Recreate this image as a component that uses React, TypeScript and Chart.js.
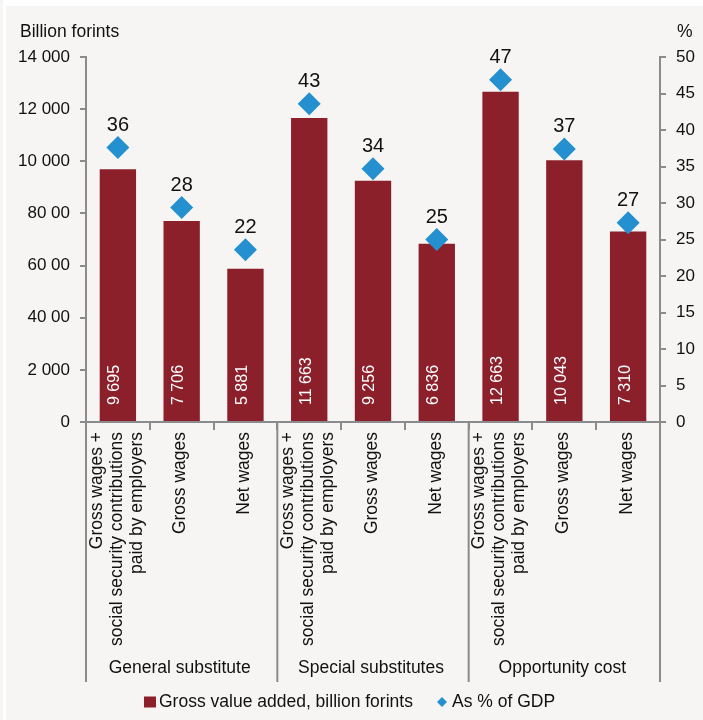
import React, { useEffect, useRef } from "react";
import { Chart, registerables } from "chart.js";

Chart.register(...registerables);

// ---------- data ----------
const groupNames = ["General substitute", "Special substitutes", "Opportunity cost"];
const categoryLabels: string[][] = [
  ["Gross wages +", "social security contributions", "paid by employers"],
  ["Gross wages"],
  ["Net wages"],
  ["Gross wages +", "social security contributions", "paid by employers"],
  ["Gross wages"],
  ["Net wages"],
  ["Gross wages +", "social security contributions", "paid by employers"],
  ["Gross wages"],
  ["Net wages"],
];
const grossValueAdded = [9695, 7706, 5881, 11663, 9256, 6836, 12663, 10043, 7310];
const pctOfGDP = [37.6, 29.4, 23.6, 43.6, 34.7, 25.0, 46.9, 37.4, 27.3];
const pctLabels = ["36", "28", "22", "43", "34", "25", "47", "37", "27"];
const leftTickLabels = ["0", "2 000", "40 00", "60 00", "80 00", "10 000", "12 000", "14 000"];
const leftAxisTitle = "Billion forints";
const rightAxisTitle = "%";
const legendLabels = ["Gross value added, billion forints", "As % of GDP"];

// ---------- style ----------
const FONT = "'Liberation Sans', Arial, Helvetica, sans-serif";
const BG = "#f6f5f3";
const BAR = "#8b202b";
const BLUE = "#2590cf";
const AXIS = "#898b8d";
const TEXT = "#111111";

const fmt = (v: number) => String(v).replace(/\B(?=(\d{3})+(?!\d))/g, " ");

const overlay = {
  id: "overlay",
  beforeDraw(chart: any) {
    const { ctx, width, height } = chart;
    ctx.save();
    ctx.fillStyle = BG;
    ctx.fillRect(0, 0, width, height);
    ctx.fillStyle = "#ffffff";
    ctx.fillRect(3, 0, width - 3, 6);
    ctx.fillRect(3, 0, 3, height);
    ctx.restore();
  },
  afterDraw(chart: any) {
    const { ctx, chartArea } = chart;
    const xs = chart.scales.x;
    const bottom = chartArea.bottom;
    ctx.save();

    // axis titles
    ctx.fillStyle = TEXT;
    ctx.font = `17.5px ${FONT}`;
    ctx.textBaseline = "middle";
    ctx.textAlign = "left";
    ctx.fillText(leftAxisTitle, 20, 32);
    ctx.fillText(rightAxisTitle, chartArea.right + 17, 32);

    // category labels (rotated)
    ctx.font = `17.5px ${FONT}`;
    categoryLabels.forEach((lines, i) => {
      const px = xs.getPixelForValue(i);
      ctx.save();
      ctx.translate(px - 1, bottom + 10);
      ctx.rotate(-Math.PI / 2);
      ctx.textAlign = "right";
      ctx.textBaseline = "middle";
      lines.forEach((ln, j) => {
        ctx.fillText(ln, 0, (j - (lines.length - 1) / 2) * 20);
      });
      ctx.restore();
    });

    // group separators
    const bounds: number[] = [chartArea.left];
    for (let g = 1; g < groupNames.length; g++) {
      const a = xs.getPixelForValue(g * 3 - 1);
      const b = xs.getPixelForValue(g * 3);
      bounds.push((a + b) / 2);
    }
    bounds.push(chartArea.right);
    ctx.strokeStyle = AXIS;
    ctx.lineWidth = 2;
    bounds.forEach((bx) => {
      ctx.beginPath();
      ctx.moveTo(bx, bottom);
      ctx.lineTo(bx, bottom + 260);
      ctx.stroke();
    });

    // group labels
    ctx.fillStyle = TEXT;
    ctx.font = `17.5px ${FONT}`;
    ctx.textAlign = "center";
    ctx.textBaseline = "middle";
    groupNames.forEach((name, g) => {
      const cx = (bounds[g] + bounds[g + 1]) / 2 - 2;
      ctx.fillText(name, cx, bottom + 246);
    });

    // bar value labels
    const barMeta = chart.getDatasetMeta(0);
    ctx.fillStyle = "#ffffff";
    ctx.font = `16px ${FONT}`;
    barMeta.data.forEach((el: any, i: number) => {
      ctx.save();
      ctx.translate(el.x - 3, bottom - 17);
      ctx.rotate(-Math.PI / 2);
      ctx.textAlign = "left";
      ctx.textBaseline = "middle";
      ctx.fillText(fmt(grossValueAdded[i]), 0, 0);
      ctx.restore();
    });

    // percent labels
    const ptMeta = chart.getDatasetMeta(1);
    ctx.fillStyle = TEXT;
    ctx.font = `20px ${FONT}`;
    ctx.textAlign = "center";
    ctx.textBaseline = "middle";
    ptMeta.data.forEach((el: any, i: number) => {
      ctx.fillText(pctLabels[i], el.x, el.y - 22);
    });

    // legend
    const ly = 702;
    ctx.fillStyle = BAR;
    ctx.fillRect(144, ly - 5.5, 12, 11);
    ctx.fillStyle = TEXT;
    ctx.font = `17.5px ${FONT}`;
    ctx.textAlign = "left";
    ctx.textBaseline = "middle";
    ctx.fillText(legendLabels[0], 159, ly);
    ctx.fillStyle = BLUE;
    ctx.beginPath();
    ctx.moveTo(442, ly - 5);
    ctx.lineTo(447, ly);
    ctx.lineTo(442, ly + 5);
    ctx.lineTo(437, ly);
    ctx.closePath();
    ctx.fill();
    ctx.fillStyle = TEXT;
    ctx.fillText(legendLabels[1], 452, ly);

    ctx.restore();
  },
};

export default function App() {
  const ref = useRef<HTMLCanvasElement | null>(null);

  useEffect(() => {
    document.body.style.margin = "0";
    const canvas = ref.current;
    if (!canvas) return;
    const tickFont = { family: FONT, size: 17 };
    const chart = new Chart(canvas, {
      type: "bar",
      data: {
        labels: categoryLabels.map((l) => l.join(" ")),
        datasets: [
          {
            type: "bar",
            label: legendLabels[0],
            data: grossValueAdded,
            backgroundColor: BAR,
            barPercentage: 0.57,
            categoryPercentage: 1,
            yAxisID: "y",
            order: 2,
          } as any,
          {
            type: "line",
            label: legendLabels[1],
            data: pctOfGDP,
            yAxisID: "y2",
            showLine: false,
            pointStyle: "rectRot",
            pointRadius: 11.5,
            pointHoverRadius: 11.5,
            pointBackgroundColor: BLUE,
            pointBorderWidth: 0,
            borderColor: BLUE,
            backgroundColor: BLUE,
            order: 1,
          } as any,
        ],
      },
      options: {
        responsive: false,
        animation: false,
        events: [],
        layout: { padding: { top: 57, left: 0, right: 0, bottom: 0 } },
        plugins: {
          legend: { display: false },
          tooltip: { enabled: false },
        },
        scales: {
          x: {
            offset: true,
            grid: {
              offset: true,
              drawOnChartArea: false,
              drawTicks: true,
              tickLength: 8,
              color: AXIS,
              lineWidth: 2,
            },
            border: { display: true, color: AXIS, width: 2 },
            ticks: { display: false },
            afterFit(s: any) {
              s.height = 720 - 422;
            },
          },
          y: {
            position: "left",
            min: 0,
            max: 14000,
            ticks: {
              stepSize: 2000,
              padding: 10,
              color: TEXT,
              font: tickFont,
              callback: (_v: any, i: number) => leftTickLabels[i],
            },
            grid: {
              drawOnChartArea: false,
              drawTicks: true,
              tickLength: 6,
              color: AXIS,
              lineWidth: 2,
            },
            border: { display: true, color: AXIS, width: 2 },
            afterFit(s: any) {
              s.width = 86;
            },
          },
          y2: {
            position: "right",
            min: 0,
            max: 50,
            ticks: {
              stepSize: 5,
              padding: 10,
              color: TEXT,
              font: tickFont,
            },
            grid: {
              drawOnChartArea: false,
              drawTicks: true,
              tickLength: 6,
              color: AXIS,
              lineWidth: 2,
            },
            border: { display: true, color: AXIS, width: 2 },
            afterFit(s: any) {
              s.width = 703 - 660;
            },
          },
        },
      } as any,
      plugins: [overlay],
    });
    return () => chart.destroy();
  }, []);

  return (
    <canvas
      ref={ref}
      width={703}
      height={720}
      style={{ display: "block", width: 703, height: 720 }}
    />
  );
}
